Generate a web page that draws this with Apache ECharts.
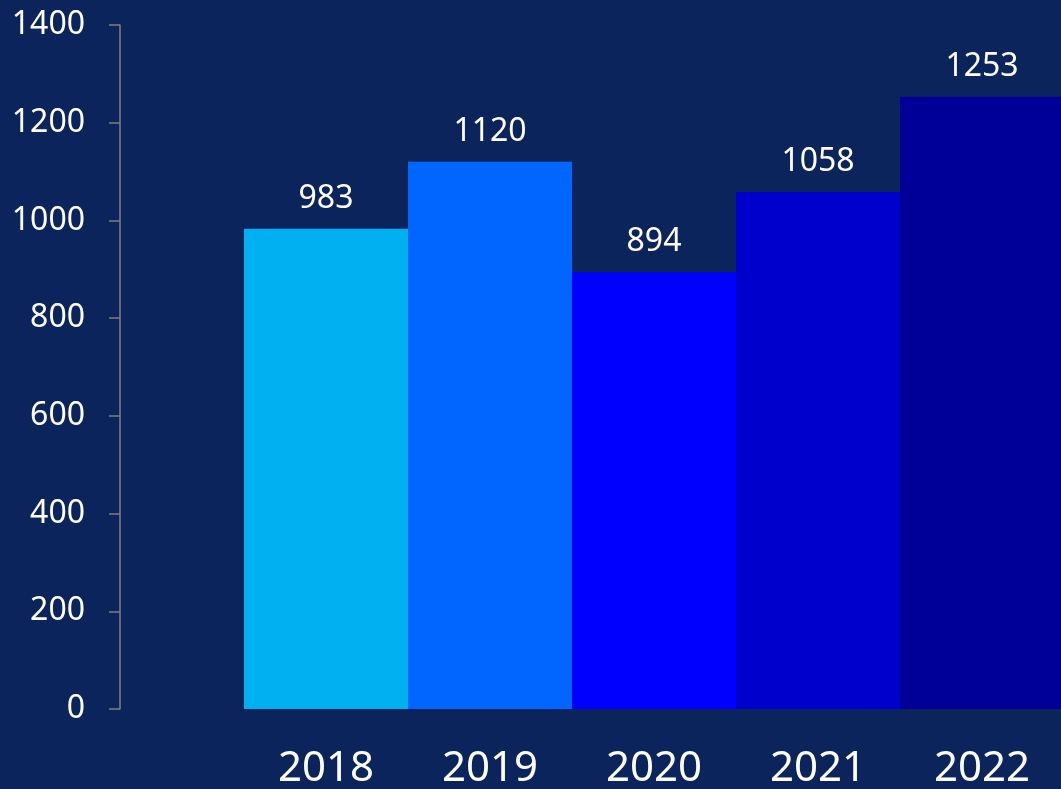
<!DOCTYPE html>
<html>
<head>
<meta charset="utf-8">
<script src="https://cdn.jsdelivr.net/npm/echarts@6/dist/echarts.min.js"></script>
<style>
html,body{margin:0;padding:0;background:#0b245b;overflow:hidden;}
#chart{width:1061px;height:789px;}
</style>
</head>
<body>
<div id="chart"></div>
<script>
var categories = ['2018', '2019', '2020', '2021', '2022'];
var values = [983, 1120, 894, 1058, 1253];
var barColors = ['#00b0f0', '#0066ff', '#0000ff', '#0000cc', '#000099'];
var yTicks = { min: 0, max: 1400, interval: 200 };

var chart = echarts.init(document.getElementById('chart'));
chart.setOption({
  backgroundColor: '#0b245b',
  animation: false,
  grid: { left: 244, width: 820, top: 25, height: 684, containLabel: false, outerBoundsMode: 'none' },
  xAxis: {
    type: 'category',
    data: categories,
    axisLine: { show: false },
    axisTick: { show: false },
    axisLabel: { color: '#ffffff', fontSize: 42, fontFamily: 'Noto Sans', margin: 39 }
  },
  yAxis: {
    type: 'value',
    min: yTicks.min, max: yTicks.max, interval: yTicks.interval,
    offset: 124,
    axisLine: { show: true, lineStyle: { color: '#7f7f7f', width: 1.5 } },
    axisTick: { show: true, length: 11, lineStyle: { color: '#7f7f7f', width: 1.5 } },
    splitLine: { show: false },
    axisLabel: {
      color: '#ffffff', fontSize: 32, fontFamily: 'Noto Sans', margin: 35,
      formatter: function (v) { return String(v); }
    }
  },
  series: [{
    type: 'bar',
    barCategoryGap: 0,
    data: values.map(function (v, i) { return { value: v, itemStyle: { color: barColors[i] } }; }),
    label: { show: true, position: 'top', distance: 14, color: '#ffffff', fontSize: 32, fontFamily: 'Noto Sans' }
  }]
});
</script>
</body>
</html>
